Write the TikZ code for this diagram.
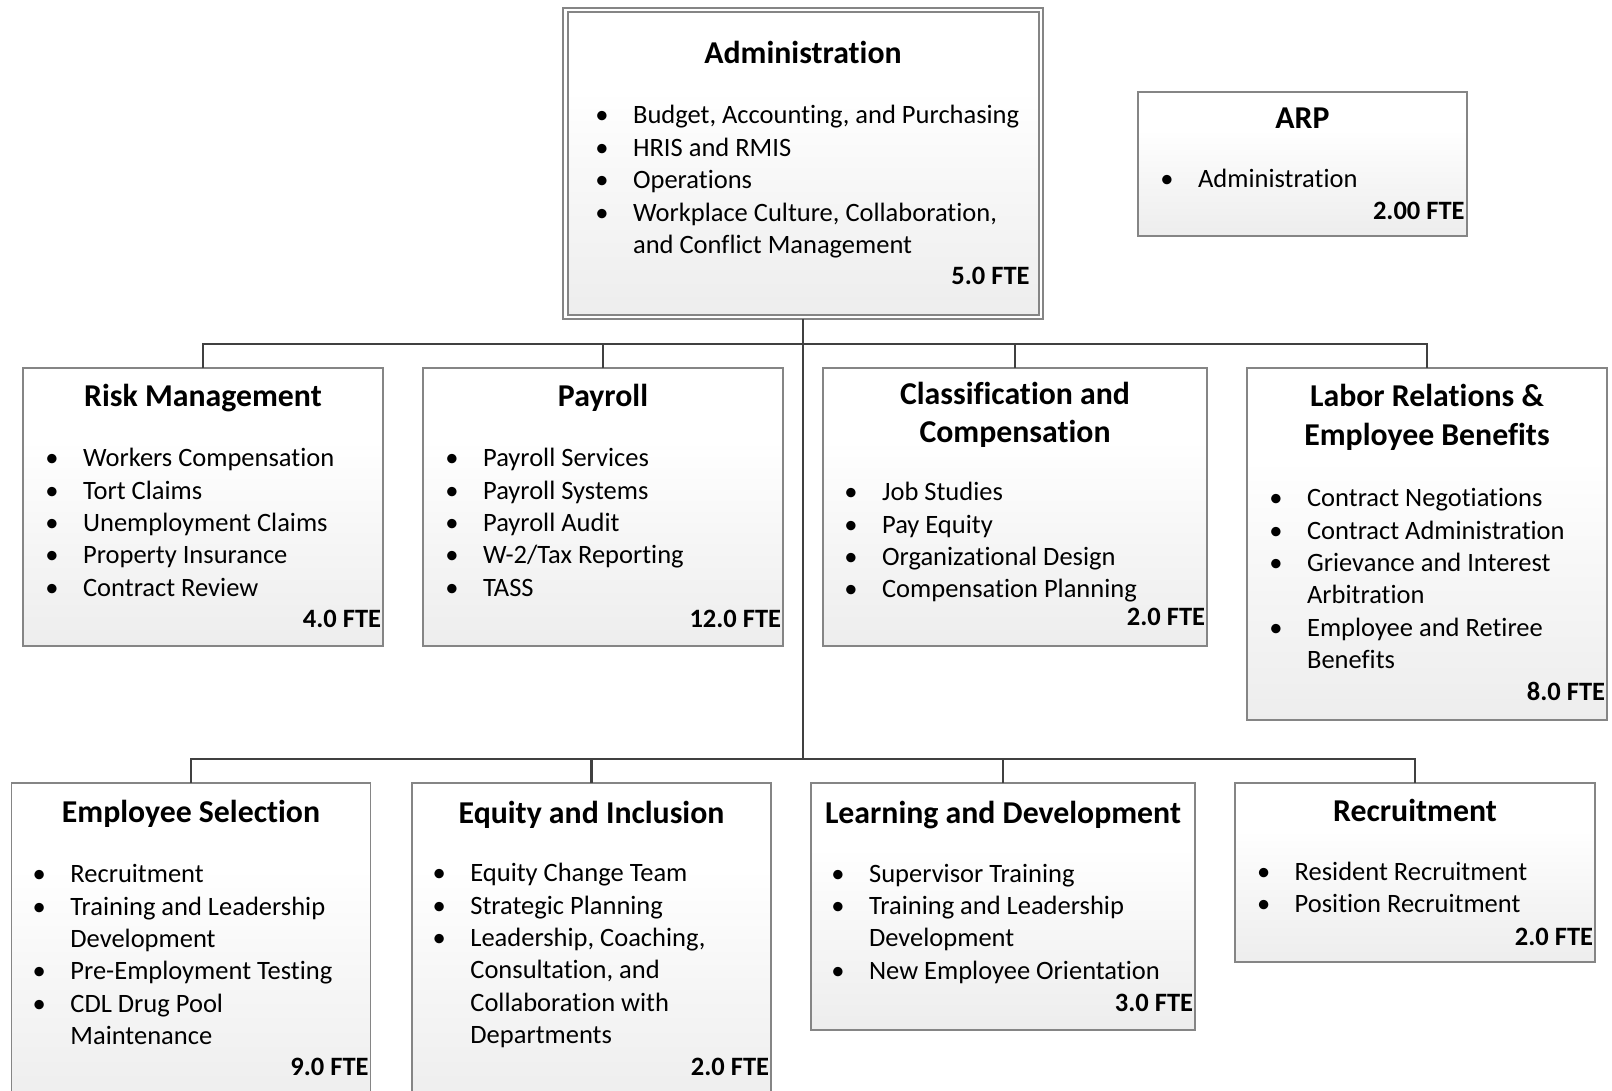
\documentclass[tikz,border=0pt]{standalone}
\usepackage{fontspec}
\setmainfont{Carlito}[Ligatures={NoCommon}]
\usetikzlibrary{fit}

% box fill: white in the upper part, fading to light grey at the bottom
\pgfdeclareverticalshading{boxshade}{100bp}{%
  color(0bp)=(black!7); color(25bp)=(black!7); color(42bp)=(black!4);
  color(62bp)=(white); color(100bp)=(white)}

\definecolor{framegray}{HTML}{858585}
\definecolor{linegray}{HTML}{404040}

\newcommand{\bodyfont}{\fontsize{13.25pt}{16.2pt}\selectfont}
\newcommand{\headfont}{\fontsize{15.9pt}{19.3pt}\selectfont\bfseries}
% bulleted list with hanging indent; continuation lines start with &
\newcommand{\blist}[1]{\begin{tabular}[t]{@{}p{18.85pt}@{}l@{}}#1\end{tabular}}
\newcommand{\bi}{\textbullet}

\tikzset{
  box/.style={draw=framegray, line width=0.65pt, shading=boxshade, inner sep=0pt, outer sep=0pt},
  frame/.style={draw=framegray, line width=0.65pt, fill=white, inner sep=0pt, outer sep=0pt},
  head/.style={font=\headfont, anchor=base, inner sep=0pt},
  items/.style={font=\bodyfont, anchor=base west, inner sep=0pt},
  fte/.style={font=\bodyfont\bfseries, anchor=base east, inner sep=0pt},
  conn/.style={draw=linegray, line width=1.15pt},
}

\begin{document}
\begin{tikzpicture}[x=0.5pt, y=-0.5pt]
\clip (0,0) rectangle (1612,1091);
\fill[white] (0,0) rectangle (1612,1091);

% ---------- top level ----------
\node[frame, fit={(563,8) (1043,319)}] (admin) {};
\node[box, fit={(568,12) (1039,315)}] (admin-in) {};
\node[head] (admin-t) at (803,63.3) {Administration};
\node[items] (admin-l) at (595,124) {\blist{%
  \bi & Budget, Accounting, and Purchasing\\
  \bi & HRIS and RMIS\\
  \bi & Operations\\
  \bi & Workplace Culture, Collaboration,\\
      & and Conflict Management}};
\node[fte] (admin-f) at (1030,285) {5.0 FTE};

\node[box, fit={(1138,92) (1467,236)}] (arp) {};
\node[head] (arp-t) at (1302.5,128.3) {ARP};
\node[items] (arp-l) at (1160,187.7) {\blist{\bi & Administration}};
\node[fte] (arp-f) at (1465,220) {2.00 FTE};

% ---------- first row ----------
\node[box, fit={(23,368) (383,646)}] (risk) {};
\node[head] (risk-t) at (203,406.7) {Risk Management};
\node[items] (risk-l) at (45,466.7) {\blist{%
  \bi & Workers Compensation\\
  \bi & Tort Claims\\
  \bi & Unemployment Claims\\
  \bi & Property Insurance\\
  \bi & Contract Review}};
\node[fte] (risk-f) at (381.5,627.3) {4.0 FTE};

\node[box, fit={(423,368) (783,646)}] (pay) {};
\node[head] (pay-t) at (603,406.7) {Payroll};
\node[items] (pay-l) at (445,466.7) {\blist{%
  \bi & Payroll Services\\
  \bi & Payroll Systems\\
  \bi & Payroll Audit\\
  \bi & W-2/Tax Reporting\\
  \bi & TASS}};
\node[fte] (pay-f) at (781.5,627.3) {12.0 FTE};

\node[box, fit={(823,368) (1207,646)}] (cls) {};
\node[head] (cls-t) at (1015,404) {\begin{tabular}[t]{@{}c@{}}Classification and\\Compensation\end{tabular}};
\node[items] (cls-l) at (844,500.7) {\blist{%
  \bi & Job Studies\\
  \bi & Pay Equity\\
  \bi & Organizational Design\\
  \bi & Compensation Planning}};
\node[fte] (cls-f) at (1205.5,625) {2.0 FTE};

\node[box, fit={(1247,368) (1607,720)}] (labor) {};
\node[head] (labor-t) at (1427,406.7) {\begin{tabular}[t]{@{}c@{}}Labor Relations \&\\Employee Benefits\end{tabular}};
\node[items] (labor-l) at (1269,506.7) {\blist{%
  \bi & Contract Negotiations\\
  \bi & Contract Administration\\
  \bi & Grievance and Interest\\
      & Arbitration\\
  \bi & Employee and Retiree\\
      & Benefits}};
\node[fte] (labor-f) at (1605.5,700) {8.0 FTE};

% ---------- second row ----------
\node[box, fit={(11.7,783) (370.7,1110)}] (sel) {};
\node[head] (sel-t) at (191,822.7) {Employee Selection};
\node[items] (sel-l) at (32.3,882.7) {\blist{%
  \bi & Recruitment\\
  \bi & Training and Leadership\\
      & Development\\
  \bi & Pre-Employment Testing\\
  \bi & CDL Drug Pool\\
      & Maintenance}};
\node[fte] (sel-f) at (369,1075) {9.0 FTE};

\node[box, fit={(412,783) (771,1110)}] (eq) {};
\node[head] (eq-t) at (591.5,823.3) {Equity and Inclusion};
\node[items] (eq-l) at (432.3,881.7) {\blist{%
  \bi & Equity Change Team\\
  \bi & Strategic Planning\\
  \bi & Leadership, Coaching,\\
      & Consultation, and\\
      & Collaboration with\\
      & Departments}};
\node[fte] (eq-f) at (769.5,1075) {2.0 FTE};

\node[box, fit={(811,783) (1195,1030)}] (ld) {};
\node[head] (ld-t) at (1003,823) {Learning and Development};
\node[items] (ld-l) at (831,882) {\blist{%
  \bi & Supervisor Training\\
  \bi & Training and Leadership\\
      & Development\\
  \bi & New Employee Orientation}};
\node[fte] (ld-f) at (1193.5,1011) {3.0 FTE};

\node[box, fit={(1235,783) (1595,962)}] (rec) {};
\node[head] (rec-t) at (1415,821.7) {Recruitment};
\node[items] (rec-l) at (1256.6,880) {\blist{%
  \bi & Resident Recruitment\\
  \bi & Position Recruitment}};
\node[fte] (rec-f) at (1593.5,945) {2.0 FTE};

% ---------- connectors ----------
\coordinate (j1) at (803,344);
\coordinate (j2) at (803,759);
\draw[conn] (admin.south) -- (j2);
\draw[conn] (risk.north) |- (j1) -| (labor.north);
\draw[conn] (pay.north) |- (j1);
\draw[conn] (cls.north) |- (j1);
\draw[conn] (sel.north) |- (j2) -| (rec.north);
\draw[conn] (eq.north) |- (j2);
\draw[conn] (ld.north) |- (j2);
\end{tikzpicture}
\end{document}
